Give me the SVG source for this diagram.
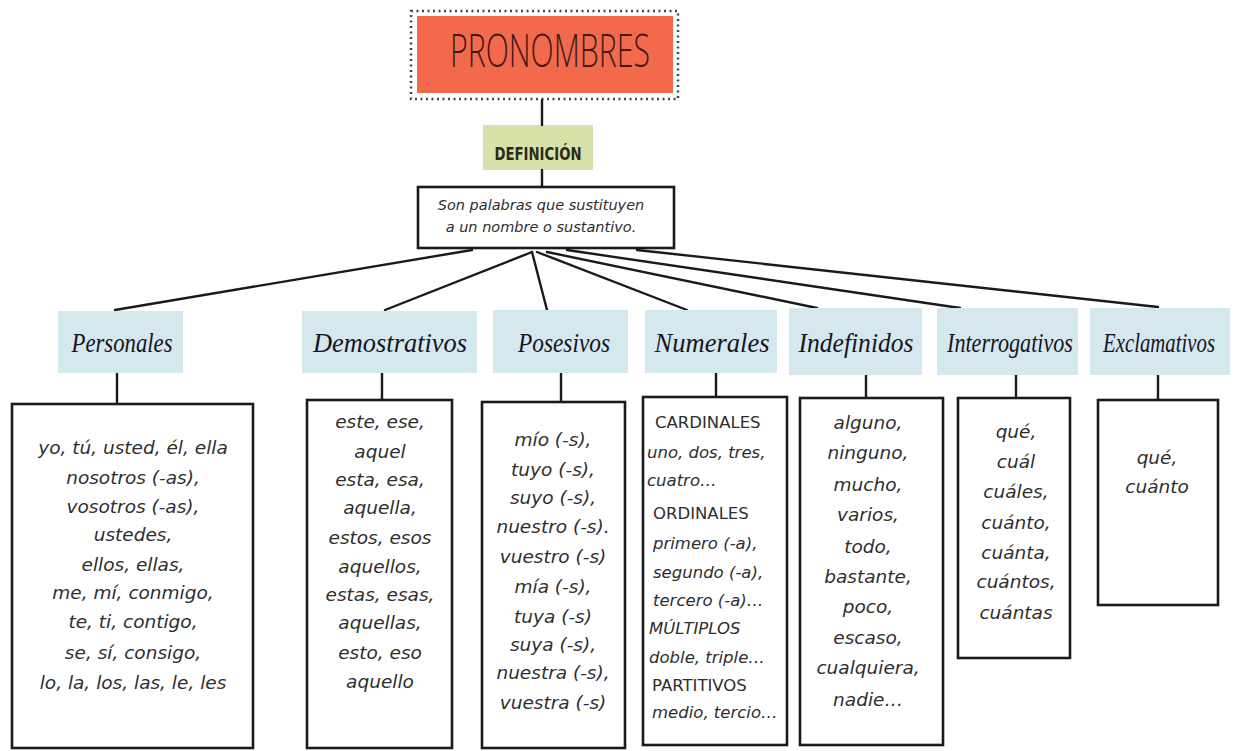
<svg xmlns="http://www.w3.org/2000/svg" width="1235" height="751" viewBox="0 0 1235 751">
<style>
.hdr{fill:#d5e8ee}
.hdrt{font-family:"Liberation Serif",serif;font-style:italic;font-size:27px;fill:#15151f;text-anchor:middle}
.box{fill:#fff;stroke:#1a1a1a;stroke-width:2.6}
.body{font-family:"DejaVu Sans",sans-serif;font-style:oblique;font-size:18.5px;fill:#2e2e2e;text-anchor:middle}
.num{font-family:"DejaVu Sans",sans-serif;font-style:oblique;font-size:16.5px;fill:#2e2e2e}
.cap{font-style:normal}
.con line{stroke:#1a1a1a;stroke-width:2.4;stroke-linecap:round}
</style>
<rect width="1235" height="751" fill="#fff"/>

<g id="title">
<rect x="411" y="11" width="267" height="88" fill="none" stroke="#3b4a58" stroke-width="2.5" stroke-dasharray="2,3.5"/>
<rect x="417" y="16" width="256" height="77" fill="#f26a4b"/>
<text x="550" y="67" font-family="Open Sans, Lato, sans-serif" font-weight="300" font-size="46" fill="#3f1a1a" text-anchor="middle" textLength="200" lengthAdjust="spacingAndGlyphs">PRONOMBRES</text>
</g>

<g id="definicion">
<rect x="483" y="125" width="110" height="45" fill="#d6e2a9"/>
<text x="538" y="160" font-family="DejaVu Sans Condensed, DejaVu Sans, sans-serif" font-weight="bold" font-size="17" fill="#2a2a1a" text-anchor="middle" textLength="87" lengthAdjust="spacingAndGlyphs">DEFINICIÓN</text>
</g>

<g id="definicion-texto">
<rect class="box" x="418" y="187" width="256" height="61"/>
<text x="541" y="210" font-family="DejaVu Sans, sans-serif" font-style="oblique" font-size="14.5" fill="#2e2e2e" text-anchor="middle">Son palabras que sustituyen</text>
<text x="541" y="232" font-family="DejaVu Sans, sans-serif" font-style="oblique" font-size="14.5" fill="#2e2e2e" text-anchor="middle">a un nombre o sustantivo.</text>
</g>

<g id="connectors" class="con">
<line x1="542" y1="100" x2="542" y2="125"/>
<line x1="542" y1="170" x2="542" y2="187"/>
<line x1="472" y1="250" x2="115" y2="310"/>
<line x1="532" y1="252" x2="385" y2="310"/>
<line x1="532" y1="252" x2="547" y2="310"/>
<line x1="537" y1="252" x2="687" y2="310"/>
<line x1="547" y1="252" x2="817" y2="308"/>
<line x1="567" y1="250" x2="960" y2="308"/>
<line x1="637" y1="250" x2="1158" y2="307"/>
<line x1="117" y1="373" x2="117" y2="404"/>
<line x1="382" y1="373" x2="382" y2="400"/>
<line x1="561" y1="373" x2="561" y2="402"/>
<line x1="716" y1="373" x2="716" y2="397"/>
<line x1="866" y1="375" x2="866" y2="398"/>
<line x1="1016" y1="375" x2="1016" y2="398"/>
<line x1="1158" y1="375" x2="1158" y2="400"/>
</g>

<g id="personales">
<rect class="hdr" x="58" y="311" width="125" height="62"/>
<text class="hdrt" x="122" y="352" textLength="101" lengthAdjust="spacingAndGlyphs">Personales</text>
<rect class="box" x="12" y="404" width="241" height="344"/>
<text class="body" x="133"><tspan x="133" y="454">yo, tú, usted, él, ella</tspan><tspan x="133" y="484">nosotros (-as),</tspan><tspan x="133" y="513">vosotros (-as),</tspan><tspan x="133" y="541">ustedes,</tspan><tspan x="133" y="571">ellos, ellas,</tspan><tspan x="133" y="599">me, mí, conmigo,</tspan><tspan x="133" y="628">te, ti, contigo,</tspan><tspan x="133" y="659">se, sí, consigo,</tspan><tspan x="133" y="689">lo, la, los, las, le, les</tspan></text>
</g>

<g id="demostrativos">
<rect class="hdr" x="302" y="311" width="175" height="62"/>
<text class="hdrt" x="390" y="352" textLength="154" lengthAdjust="spacingAndGlyphs">Demostrativos</text>
<rect class="box" x="307" y="400" width="145" height="348"/>
<text class="body" x="380"><tspan x="380" y="428">este, ese,</tspan><tspan x="380" y="458">aquel</tspan><tspan x="380" y="486">esta, esa,</tspan><tspan x="380" y="514">aquella,</tspan><tspan x="380" y="544">estos, esos</tspan><tspan x="380" y="573">aquellos,</tspan><tspan x="380" y="601">estas, esas,</tspan><tspan x="380" y="629">aquellas,</tspan><tspan x="380" y="659">esto, eso</tspan><tspan x="380" y="688">aquello</tspan></text>
</g>

<g id="posesivos">
<rect class="hdr" x="493" y="310" width="135" height="63"/>
<text class="hdrt" x="564" y="352" textLength="92" lengthAdjust="spacingAndGlyphs">Posesivos</text>
<rect class="box" x="482" y="402" width="143" height="346"/>
<text class="body" x="553"><tspan x="553" y="446">mío (-s),</tspan><tspan x="553" y="476">tuyo (-s),</tspan><tspan x="553" y="504">suyo (-s),</tspan><tspan x="553" y="533">nuestro (-s).</tspan><tspan x="553" y="563">vuestro (-s)</tspan><tspan x="553" y="593">mía (-s),</tspan><tspan x="553" y="623">tuya (-s)</tspan><tspan x="553" y="651">suya (-s),</tspan><tspan x="553" y="679">nuestra (-s),</tspan><tspan x="553" y="709">vuestra (-s)</tspan></text>
</g>

<g id="numerales">
<rect class="hdr" x="645" y="310" width="132" height="63"/>
<text class="hdrt" x="712" y="352" textLength="115" lengthAdjust="spacingAndGlyphs">Numerales</text>
<rect class="box" x="643" y="397" width="144" height="348"/>
<text class="num"><tspan class="cap" x="655" y="428">CARDINALES</tspan><tspan x="647" y="458">uno, dos, tres,</tspan><tspan x="647" y="486">cuatro…</tspan><tspan class="cap" x="653" y="519">ORDINALES</tspan><tspan x="653" y="549">primero (-a),</tspan><tspan x="653" y="578">segundo (-a),</tspan><tspan x="653" y="606">tercero (-a)…</tspan><tspan x="649" y="634">MÚLTIPLOS</tspan><tspan x="649" y="663">doble, triple…</tspan><tspan class="cap" x="652" y="691">PARTITIVOS</tspan><tspan x="652" y="718">medio, tercio…</tspan></text>
</g>

<g id="indefinidos">
<rect class="hdr" x="789" y="308" width="133" height="67"/>
<text class="hdrt" x="856" y="352" textLength="115" lengthAdjust="spacingAndGlyphs">Indefinidos</text>
<rect class="box" x="800" y="398" width="143" height="347"/>
<text class="body" x="868"><tspan x="868" y="429">alguno,</tspan><tspan x="868" y="459">ninguno,</tspan><tspan x="868" y="491">mucho,</tspan><tspan x="868" y="521">varios,</tspan><tspan x="868" y="553">todo,</tspan><tspan x="868" y="583">bastante,</tspan><tspan x="868" y="613">poco,</tspan><tspan x="868" y="644">escaso,</tspan><tspan x="868" y="674">cualquiera,</tspan><tspan x="868" y="706">nadie…</tspan></text>
</g>

<g id="interrogativos">
<rect class="hdr" x="937" y="308" width="141" height="67"/>
<text class="hdrt" x="1010" y="352" textLength="126" lengthAdjust="spacingAndGlyphs">Interrogativos</text>
<rect class="box" x="958" y="398" width="112" height="260"/>
<text class="body" x="1016"><tspan x="1016" y="438">qué,</tspan><tspan x="1016" y="468">cuál</tspan><tspan x="1016" y="498">cuáles,</tspan><tspan x="1016" y="529">cuánto,</tspan><tspan x="1016" y="559">cuánta,</tspan><tspan x="1016" y="588">cuántos,</tspan><tspan x="1016" y="619">cuántas</tspan></text>
</g>

<g id="exclamativos">
<rect class="hdr" x="1090" y="308" width="140" height="67"/>
<text class="hdrt" x="1159" y="352" font-size="24" textLength="112" lengthAdjust="spacingAndGlyphs">Exclamativos</text>
<rect class="box" x="1098" y="400" width="120" height="205"/>
<text class="body" x="1157"><tspan x="1157" y="464">qué,</tspan><tspan x="1157" y="493">cuánto</tspan></text>
</g>
</svg>
